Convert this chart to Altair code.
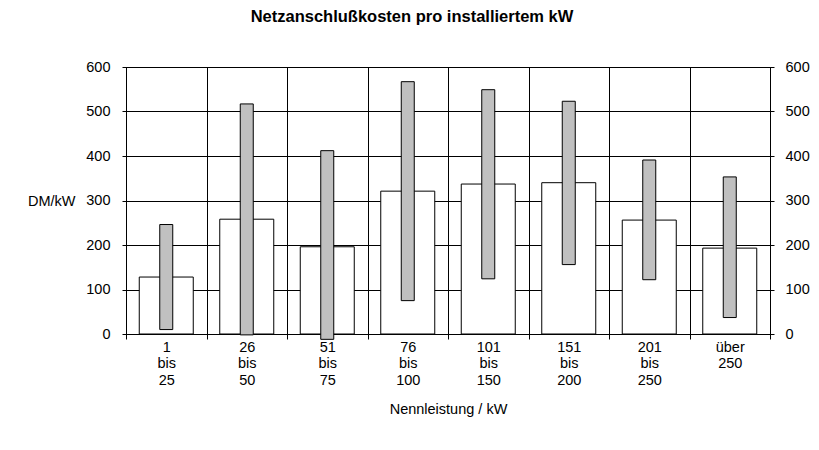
import altair as alt
import pandas as pd

categories = ["1|bis|25", "26|bis|50", "51|bis|75", "76|bis|100",
              "101|bis|150", "151|bis|200", "201|bis|250", "über|250"]
mean_cost = [128, 258, 196, 321, 337, 340, 256, 193]
min_cost = [10, -2, -12, 75, 124, 156, 122, 37]
max_cost = [246, 517, 412, 567, 549, 523, 391, 353]
y_ticks = [0, 100, 200, 300, 400, 500, 600]

df = pd.DataFrame({"cat": categories, "mean": mean_cost, "lo": min_cost, "hi": max_cost})

FONT = "Liberation Sans"
FS = 14.5

x_enc = alt.X(
    "cat:N", sort=categories,
    scale=alt.Scale(paddingInner=0, paddingOuter=0),
    axis=alt.Axis(
        title="Nennleistung / kW", labelExpr="split(datum.label, '|')",
        labelAngle=0, tickBand="extent", grid=True, gridColor="black",
        gridOpacity=1, tickSize=5, tickColor="black", domainColor="black",
        labelPadding=1, labelLineHeight=16.8, titlePadding=15,
    ),
)

white = alt.Chart(df).mark_bar(size=54, fill="white", stroke="black", strokeWidth=1).encode(
    x=x_enc,
    y=alt.Y("mean:Q", scale=alt.Scale(domain=[0, 600], nice=False),
            axis=alt.Axis(orient="left", values=y_ticks, grid=True, gridColor="black",
                          gridOpacity=1, tickSize=4, tickColor="black", domainColor="black",
                          labelPadding=12, title="DM/kW", titleAngle=0, titleAlign="right",
                          titleBaseline="middle", titleX=-51, titleY=134,
                          titleFontWeight="normal")),
)

gray = alt.Chart(df).mark_bar(size=13, fill="#c0c0c0", stroke="black", strokeWidth=1).encode(
    x=alt.X("cat:N", sort=categories),
    y=alt.Y("lo:Q", scale=alt.Scale(domain=[0, 600], nice=False),
            axis=alt.Axis(orient="right", values=y_ticks, grid=False, tickSize=4,
                          tickColor="black", domainColor="black", labelPadding=11, title=None)),
    y2="hi:Q",
)

chart = alt.layer(white, gray).resolve_scale(y="independent").properties(
    width=644, height=267,
    autosize=alt.AutoSizeParams(type="none"),
    padding={"left": 118, "top": 59, "right": 41, "bottom": 100},
    title=alt.Title("Netzanschlußkosten pro installiertem kW", fontSize=16.5,
                    fontWeight="bold", font=FONT, offset=34, dx=-36, color="black"),
).configure(font=FONT).configure_view(stroke="black", strokeWidth=1).configure_axis(
    labelFont=FONT, titleFont=FONT, labelFontSize=FS, titleFontSize=FS,
    labelColor="black", titleColor="black", titleFontWeight="normal",
)

chart.save("out.html", embed_options={"renderer": "svg", "actions": False})
